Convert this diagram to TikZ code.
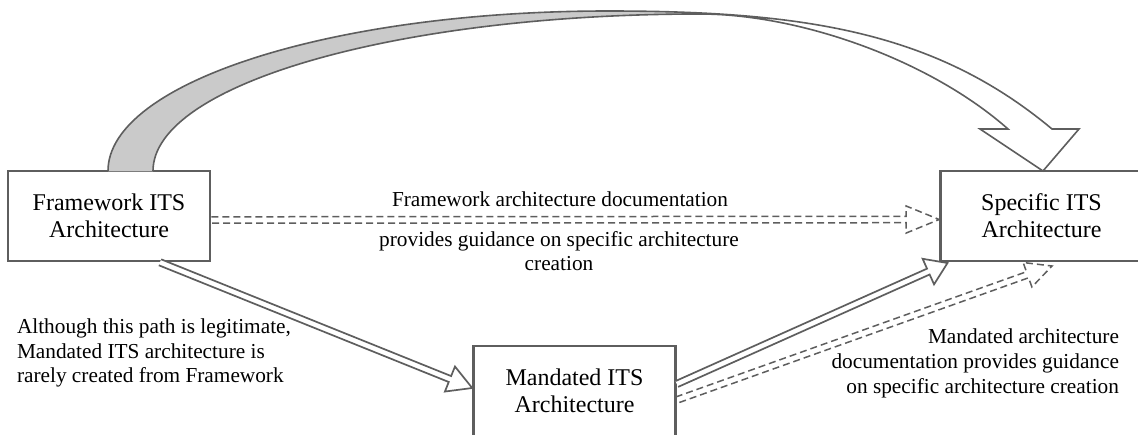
\documentclass[tikz,border=0pt]{standalone}
\usepackage{fontspec}
\setmainfont{Liberation Serif}
\usetikzlibrary{calc}

\definecolor{ln}{HTML}{5E5E5E}
\definecolor{shade}{HTML}{CACACA}

\tikzset{
  archbox/.style={draw=ln, line width=2.6pt, fill=white, outer sep=0pt, inner sep=0pt,
    minimum width=202pt, minimum height=90pt, align=center,
    font=\fontsize{24}{27}\selectfont},
  note/.style={inner sep=0pt, outer sep=0pt, font=\fontsize{21.3}{24.5}\selectfont},
  solidflow/.style={draw=ln, line width=1.7pt, line join=miter, fill=white},
  dashedflow/.style={draw=ln, line width=1.5pt, dash pattern=on 7pt off 4pt},
  ribbon/.style={draw=ln, line width=1.6pt, line join=miter},
}

% Block arrow drawn as an outline: double shaft and open triangular head.
% #1 style, #2 start coordinate, #3 tip coordinate,
% #4 half shaft width, #5 head length, #6 head half width
\newcommand\blockarrow[6]{%
  \coordinate (ba-h) at ($(#3)!#5!(#2)$);
  \draw[#1] ($(#2)!#4!90:(#3)$) -- ($(ba-h)!#4!90:(#3)$) -- ($(ba-h)!#6!90:(#3)$)
    -- (#3) -- ($(ba-h)!#6!-90:(#3)$) -- ($(ba-h)!#4!-90:(#3)$) -- ($(#2)!#4!-90:(#3)$);
}

\begin{document}
\begin{tikzpicture}[x=1pt, y=-1pt]
  \useasboundingbox (0,0) rectangle (1138,434);
  \clip (0,0) rectangle (1138,434);

  % Architecture boxes
  \node[archbox] (fw) at (109,216) {Framework ITS\\Architecture};
  \node[archbox] (sp) at (1041.5,216) {Specific ITS\\Architecture};
  \node[archbox] (md) at (574.5,391) {Mandated ITS\\Architecture};

  % Curved ribbon arrow from Framework to Specific
  \coordinate (ra0) at ($(fw.north)+(-1,0)$);
  \coordinate (rb0) at ($(fw.north)+(44,0)$);
  \coordinate (ra1) at ($(sp.north)+(10.5,-42)$);
  \coordinate (rb1) at ($(sp.north)+(-33.5,-42)$);
  \coordinate (rtip) at ($(sp.north)+(1.5,0)$);
  \coordinate (rw1) at ($(sp.north)+(-61.5,-42)$);
  \coordinate (rw2) at ($(sp.north)+(37.5,-42)$);
  \path[fill=white] (ra0) .. controls (108,82.7) and (332,11) .. (608,11)
    .. controls (808,11) and (937,33) .. (ra1) -- (rw2) -- (rtip) -- (rw1) -- (rb1)
    .. controls (930,60) and (800,14) .. (700,14)
    .. controls (398,14) and (153,84) .. (rb0) -- cycle;
  \path[fill=shade] (ra0) .. controls (108,82.7) and (332,11) .. (608,11)
    -- (700,12.5) -- (700,14)
    .. controls (398,14) and (153,84) .. (rb0) -- cycle;
  \draw[ribbon] (ra0) .. controls (108,82.7) and (332,11) .. (608,11)
    .. controls (808,11) and (937,33) .. (ra1) -- (rw2) -- (rtip) -- (rw1) -- (rb1)
    .. controls (930,60) and (800,14) .. (700,14)
    .. controls (398,14) and (153,84) .. (rb0);

  % Framework -> Specific (documentation guidance)
  \coordinate (a1s) at ($(fw.east)+(1.3,4)$);
  \coordinate (a1e) at ($(sp.west)+(-1.3,3.5)$);
  \blockarrow{dashedflow}{a1s}{a1e}{3.2pt}{33pt}{13.5pt}

  % Framework -> Mandated
  \coordinate (a2s) at ($(fw.south)+(51,1.3)$);
  \coordinate (a2e) at ($(md.west)+(-1.3,-3)$);
  \blockarrow{solidflow}{a2s}{a2e}{3.2pt}{24pt}{13.5pt}

  % Mandated -> Specific
  \coordinate (a3s) at ($(md.east)+(1.3,-7)$);
  \coordinate (a3e) at ($(sp.south west)+(7,2)$);
  \blockarrow{solidflow}{a3s}{a3e}{3.2pt}{21pt}{14pt}

  % Mandated -> Specific (documentation guidance)
  \coordinate (a4s) at ($(md.east)+(1.3,9)$);
  \coordinate (a4e) at ($(sp.south)+(10.5,5)$);
  \blockarrow{dashedflow}{a4s}{a4e}{3.2pt}{26pt}{13pt}

  % Labels
  \node[note] (t1) at (560,199) {Framework architecture documentation};
  \node[note, align=center] (t2) at (559,251)
    {provides guidance on specific architecture\\creation};
  \node[note, align=left, anchor=west] (t3) at (17,353)
    {Although this path is legitimate,\\Mandated ITS architecture is\\rarely created from Framework};
  \node[note, align=right, anchor=east, font=\fontsize{21.3}{25}\selectfont] (t4) at (1119,363)
    {Mandated architecture\\documentation provides guidance\\on specific architecture creation};
\end{tikzpicture}
\end{document}
